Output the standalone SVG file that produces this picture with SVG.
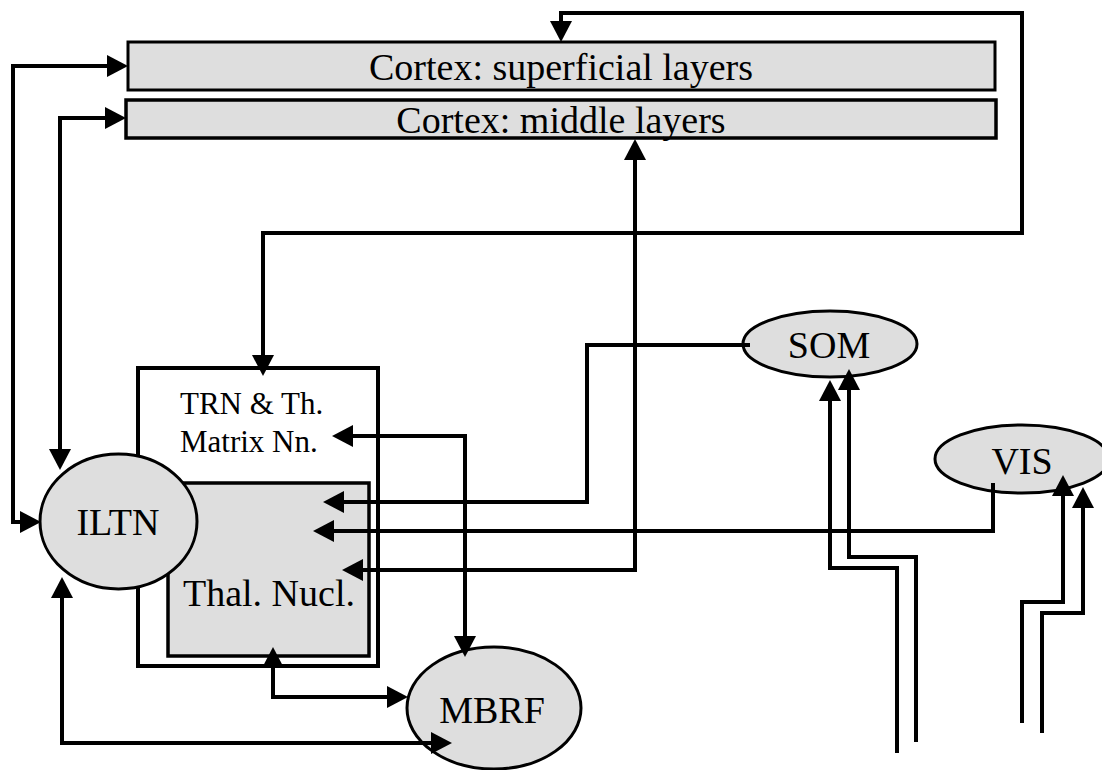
<svg xmlns="http://www.w3.org/2000/svg" width="1102" height="770" viewBox="0 0 1102 770">
<style>
.box{fill:#dedede;stroke:#000;stroke-width:3}
.wbox{fill:#fff;stroke:#000;stroke-width:4}
.ell{fill:#dedede;stroke:#000;stroke-width:3}
.lbl{font-family:"Liberation Serif","Times New Roman",serif;font-size:38px;fill:#000}
.sm{font-family:"Liberation Serif","Times New Roman",serif;font-size:31px;fill:#000}
.c{fill:none;stroke:#000;stroke-width:4;stroke-linejoin:miter;stroke-linecap:butt}
.a{marker-end:url(#ah)}
.b{marker-start:url(#ah);marker-end:url(#ah)}
</style>
<defs>
<marker id="ah" markerUnits="userSpaceOnUse" viewBox="0 -11 21 22" refX="0" refY="0" markerWidth="21" markerHeight="22" orient="auto-start-reverse">
<path d="M0,-11 L21,0 L0,11 z" fill="#000"/>
</marker>
</defs>
<rect width="1102" height="770" fill="#fff"/>
<g id="cortex-superficial">
<rect class="box" x="128" y="42" width="867" height="48"/>
<text class="lbl" x="561" y="80" text-anchor="middle">Cortex: superficial layers</text>
</g>
<g id="cortex-middle">
<rect class="box" x="126" y="100" width="870" height="38" style="stroke-width:3.5"/>
<text class="lbl" x="561" y="133" text-anchor="middle">Cortex: middle layers</text>
</g>
<g id="trn">
<rect class="wbox" x="138" y="368" width="240" height="298"/>
<text class="sm" x="180" y="414">TRN &amp; Th.</text>
<text class="sm" x="180" y="452">Matrix Nn.</text>
</g>
<g id="thal">
<rect class="box" x="168" y="483" width="201" height="173" style="stroke-width:3.5"/>
<text class="lbl" x="269" y="606" text-anchor="middle">Thal. Nucl.</text>
</g>
<g id="iltn">
<ellipse class="ell" cx="118.5" cy="521.5" rx="78.5" ry="67.5"/>
<text class="lbl" x="118" y="535" text-anchor="middle">ILTN</text>
</g>
<g id="mbrf">
<ellipse class="ell" cx="494" cy="708" rx="87" ry="61"/>
<text class="lbl" x="492" y="723" text-anchor="middle">MBRF</text>
</g>
<g id="som">
<ellipse class="ell" cx="830" cy="344" rx="87" ry="33"/>
<text class="lbl" x="829" y="358" text-anchor="middle">SOM</text>
</g>
<g id="vis">
<ellipse class="ell" cx="1022" cy="459" rx="87" ry="34"/>
<text class="lbl" x="1022" y="474" text-anchor="middle">VIS</text>
</g>
<g id="connectors">
<path class="c b" d="M20,522 H13 V66 H107"/>
<path class="c b" d="M60,449 V118 H105"/>
<path class="c b" d="M561,21 V13 H1022 V233 H263 V355"/>
<path class="c b" d="M363,570 H635 V160"/>
<path class="c a" d="M750,345 H587 V502 H344"/>
<path class="c a" d="M993,483 V531 H334"/>
<path class="c b" d="M353,436 H465 V636"/>
<path class="c b" d="M273,668 V697 H387"/>
<path class="c b" d="M62,598 V743 H431"/>
<path class="c a" d="M897,753 V568 H830 V401"/>
<path class="c a" d="M916,742 V557 H849 V390"/>
<path class="c a" d="M1022,723 V602 H1063 V496"/>
<path class="c a" d="M1042,733 V613 H1083 V508"/>
</g>
</svg>
